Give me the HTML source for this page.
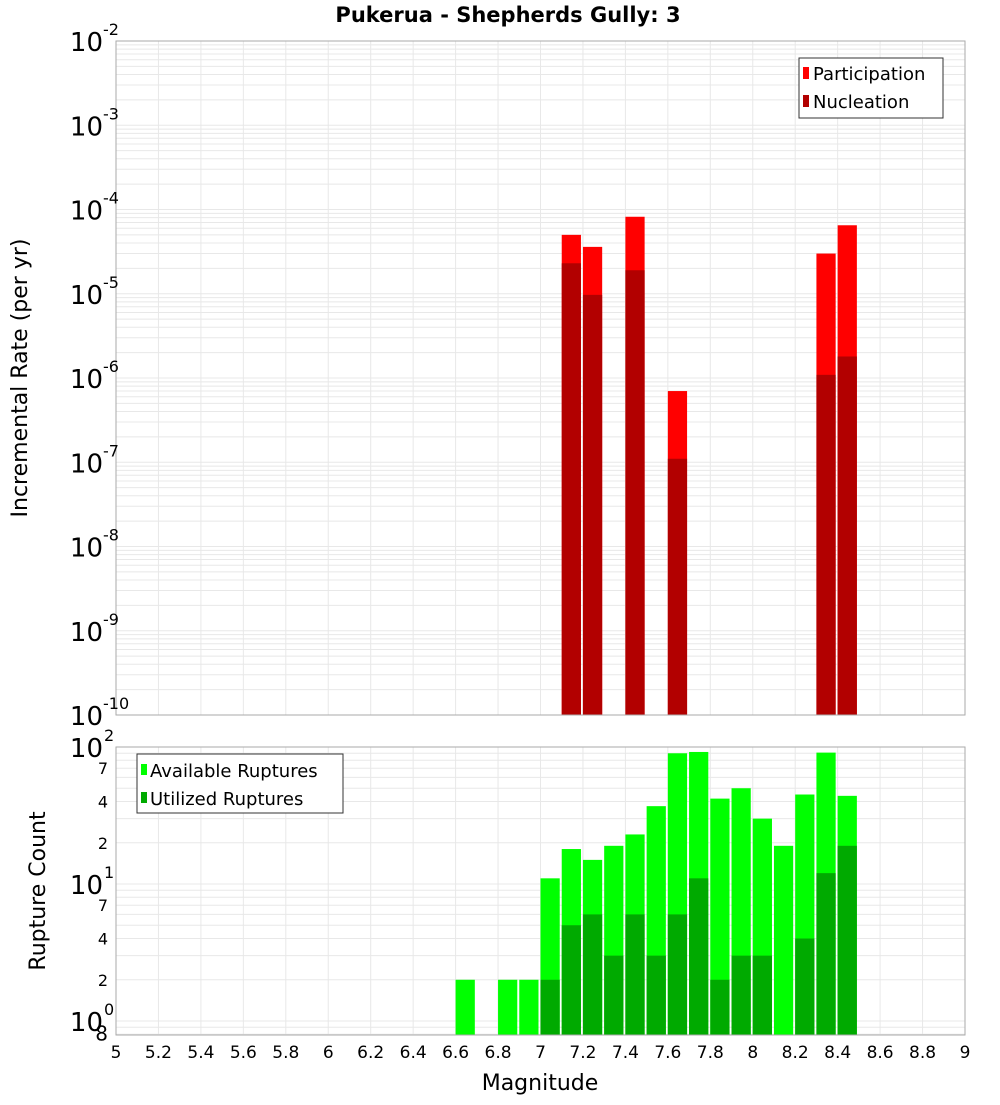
<!DOCTYPE html>
<html><head><meta charset="utf-8"><style>
body{margin:0;background:#fff;font-family:"Liberation Sans","DejaVu Sans",sans-serif}
svg text{font-family:"DejaVu Sans","Liberation Sans",sans-serif}
</style></head><body>
<svg id="c" width="1000" height="1100" xmlns="http://www.w3.org/2000/svg">
<text x="508" y="22" text-anchor="middle" font-size="21" font-weight="bold">Pukerua - Shepherds Gully: 3</text>
<text transform="translate(27,378) rotate(-90)" text-anchor="middle" font-size="22">Incremental Rate (per yr)</text>
<text transform="translate(45,891) rotate(-90)" text-anchor="middle" font-size="22">Rupture Count</text>
<text x="540" y="1090" text-anchor="middle" font-size="22">Magnitude</text>
<g id="grid"></g><g id="bars"></g><g id="axes"></g>
<g>
<rect x="799" y="58" width="144" height="60" fill="#fff" stroke="#333"/>
<rect x="803" y="67" width="6" height="12" fill="#ff0000"/>
<text x="813" y="80" font-size="18">Participation</text>
<rect x="803" y="95" width="6" height="12" fill="#b20000"/>
<text x="813" y="108" font-size="18">Nucleation</text>
</g>
<g>
<rect x="137" y="754" width="206" height="59" fill="#fff" stroke="#333"/>
<rect x="141" y="764" width="6" height="11" fill="#00ff00"/>
<text x="150" y="777" font-size="18">Available Ruptures</text>
<rect x="141" y="792" width="6" height="11" fill="#00aa00"/>
<text x="150" y="805" font-size="18">Utilized Ruptures</text>
</g>
</svg>
<script>
const rateMags=[7.15,7.25,7.45,7.65,8.35,8.45];
const participation=[5.0e-5,3.6e-5,8.2e-5,7.0e-7,3.0e-5,6.5e-5];
const nucleation=[2.3e-5,9.7e-6,1.9e-5,1.1e-7,1.09e-6,1.8e-6];
const countMags=[6.65,6.85,6.95,7.05,7.15,7.25,7.35,7.45,7.55,7.65,7.75,7.85,7.95,8.05,8.15,8.25,8.35,8.45];
const available=[2,2,2,11,18,15,19,23,37,90,92,42,50,30,19,45,91,44];
const utilized=[0,0,0,2,5,6,3,6,3,6,11,2,3,3,0,4,12,19];
const xTicks=[5,5.2,5.4,5.6,5.8,6,6.2,6.4,6.6,6.8,7,7.2,7.4,7.6,7.8,8,8.2,8.4,8.6,8.8,9];
const topDecades=[-10,-9,-8,-7,-6,-5,-4,-3,-2];

const NS="http://www.w3.org/2000/svg";
const L=116,R=965,T1=41,B1=715,T2=747,B2=1035;
const X=m=>L+(m-5)/4*(R-L);
const Y1=v=>B1-(Math.log10(v)+10)/8*(B1-T1);
const Y2=v=>1021-Math.log10(v)*137;
function mk(tag,at,par){const e=document.createElementNS(NS,tag);for(const k in at)e.setAttribute(k,at[k]);document.getElementById(par).appendChild(e);return e;}
// grids
for(const t of xTicks){
 let g=mk('line',{x1:X(t),x2:X(t),y1:T1,y2:B1,stroke:'#e8e8e8'},'grid');
 
 
 let g2=mk('line',{x1:X(t),x2:X(t),y1:T2,y2:B2,stroke:'#e8e8e8'},'grid');
 
 
}
for(let d=-10;d<-2;d++)for(let k=1;k<10;k++){const y=Y1(k*Math.pow(10,d));
 let g=mk('line',{x1:L,x2:R,y1:y,y2:y,stroke:'#e8e8e8'},'grid');
 
 }
for(let d=-1;d<2;d++)for(let k=1;k<10;k++){const v=k*Math.pow(10,d),y=Y2(v);if(y>B2||y<T2)continue;
 let g=mk('line',{x1:L,x2:R,y1:y,y2:y,stroke:'#e8e8e8'},'grid');
 
 }
// bars
const bw=(R-L)/40;
rateMags.forEach((m,i)=>{
 const x=X(m)-bw/2;
 let p=mk('rect',{x:x,y:Y1(participation[i]),width:bw-2,height:B1-Y1(participation[i]),fill:'#ff0000'},'bars');
 
 
 let n=mk('rect',{x:x,y:Y1(nucleation[i]),width:bw-2,height:B1-Y1(nucleation[i]),fill:'#b20000'},'bars');
 
 
});
countMags.forEach((m,i)=>{
 const x=X(m)-bw/2;
 if(available[i]>0){let a=mk('rect',{x:x,y:Y2(available[i]),width:bw-2,height:B2-Y2(available[i]),fill:'#00ff00'},'bars');
 
 }
 if(utilized[i]>0){let u=mk('rect',{x:x,y:Y2(utilized[i]),width:bw-2,height:B2-Y2(utilized[i]),fill:'#00aa00'},'bars');
 
 }
});
// axes frames
let f1=mk('rect',{x:L,y:T1,width:R-L,height:B1-T1,fill:'none',stroke:'#aaa'},'axes');


let f2=mk('rect',{x:L,y:T2,width:R-L,height:B2-T2,fill:'none',stroke:'#aaa'},'axes');


// x tick labels
for(const t of xTicks){let e=mk('text',{x:X(t),y:1058,'text-anchor':'middle','font-size':'17'},'axes');e.textContent=String(t);
 
 }
// top y labels
for(const d of topDecades){const y=Y1(Math.pow(10,d));
 let e=mk('text',{x:103,y:y+10,'text-anchor':'end','font-size':'26'},'axes');e.textContent='10';
 
 
 let s=mk('text',{x:103,y:y-6,'font-size':'16'},'axes');s.textContent=String(d);
 
 }
// bottom y labels
[[100,'2'],[10,'1'],[1,'0']].forEach(([v,ex])=>{const y=Y2(v);
 let e=mk('text',{x:103,y:y+10,'text-anchor':'end','font-size':'26'},'axes');e.textContent='10';
 
 
 let s=mk('text',{x:104,y:y-6,'font-size':'16'},'axes');s.textContent=ex;
 
 });
[[70,'7'],[40,'4'],[20,'2'],[7,'7'],[4,'4'],[2,'2'],[0.8,'8']].forEach(([v,l])=>{const y=Y2(v);
 let e=mk('text',{x:108,y:y+6,'text-anchor':'end','font-size':v<1?'20':'16'},'axes');e.textContent=l;
 
 });
</script>
</body></html>
